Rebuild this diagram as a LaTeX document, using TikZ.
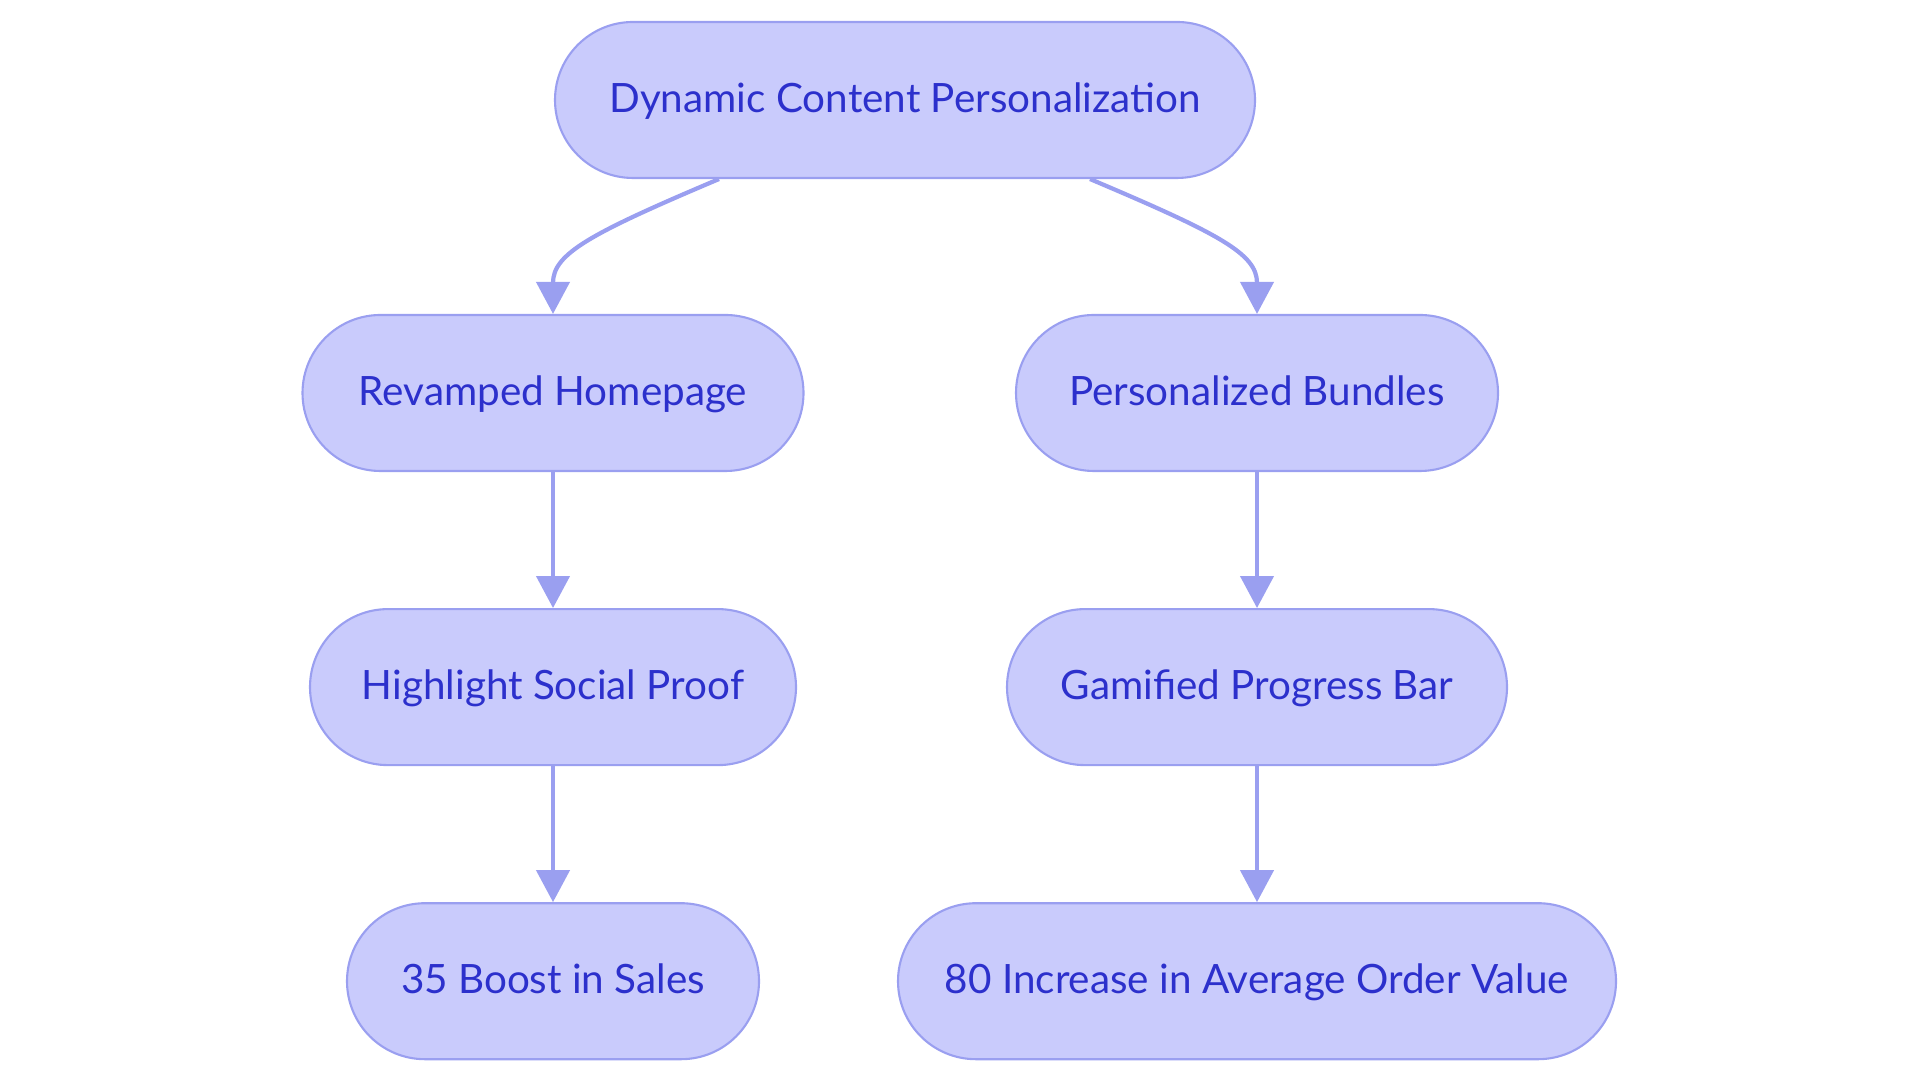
\documentclass[tikz,border=0pt]{standalone}
\usepackage{fontspec}
\setmainfont{Lato}
\definecolor{PillFill}  {RGB}{201,203,252}
\definecolor{PillEdge}  {RGB}{154,159,240}
\definecolor{PillText}  {RGB}{44,48,204}
\usetikzlibrary{arrows.meta,positioning}
\tikzset{
  pill/.style={draw=PillEdge,fill=PillFill,line width=0.6pt,
               rounded corners=0.78cm,minimum height=1.56cm,
               text height=1.7ex,text depth=0.3ex,
               text=PillText,font=\fontsize{11.5}{13}\selectfont},
  flow/.style={draw=PillEdge,line width=1.2pt,
               -{Triangle[length=3.2mm,width=3.3mm]}}
}
\begin{document}
\begin{tikzpicture}
  \useasboundingbox (0,0) rectangle (19.2,10.83);
  %% Top node
  \node[pill,minimum width=7.00cm] (dyn) at (9.05,9.83)
       {Dynamic Content Personalization};
  %% Left column
  \node[pill,minimum width=5.01cm] (home) at (5.53,6.90)
       {Revamped Homepage};
  \node[pill,minimum width=4.86cm,below=1.36cm of home] (social)
       {Highlight Social Proof};
  \node[pill,minimum width=4.12cm,below=1.36cm of social] (boost)
       {35 Boost in Sales};
  %% Right column
  \node[pill,minimum width=4.82cm] (bundle) at (12.57,6.90)
       {Personalized Bundles};
  \node[pill,minimum width=5.00cm,below=1.36cm of bundle] (gamify)
       {Gamified Progress Bar};
  \node[pill,minimum width=7.18cm,below=1.36cm of gamify] (aov)
       {80 Increase in Average Order Value};
  %% Branches from the top node
  \draw[flow] ([xshift=-1.86cm]dyn.south)
       .. controls +(-1.3,-0.55) and +(0,0.6) .. (home.north);
  \draw[flow] ([xshift=1.85cm]dyn.south)
       .. controls +(1.3,-0.55) and +(0,0.6) .. (bundle.north);
  %% Straight links down each column
  \draw[flow] (home) -- (social);
  \draw[flow] (social) -- (boost);
  \draw[flow] (bundle) -- (gamify);
  \draw[flow] (gamify) -- (aov);
\end{tikzpicture}
\end{document}
